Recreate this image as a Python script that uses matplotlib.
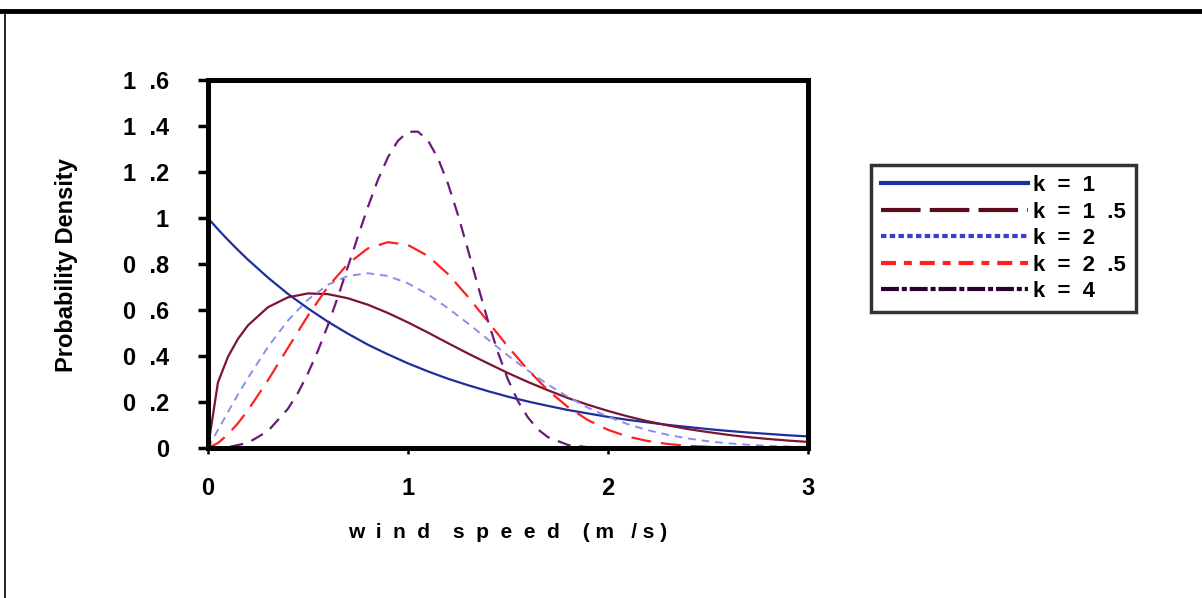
import matplotlib.pyplot as plt
from matplotlib.lines import Line2D

# wind speed samples (m/s)
speed = [0, 0.05, 0.1, 0.15, 0.2, 0.3, 0.4, 0.5, 0.6, 0.7, 0.8, 0.9, 1.0,
         1.1, 1.2, 1.3, 1.4, 1.5, 1.6, 1.7, 1.8, 1.9, 2.0, 2.1, 2.2, 2.3,
         2.4, 2.5, 2.6, 2.7, 2.8, 2.9, 3.0]

pdf_k1 = [1.0, 0.951, 0.905, 0.861, 0.819, 0.741, 0.670, 0.607, 0.549, 0.497,
          0.449, 0.407, 0.368, 0.333, 0.301, 0.273, 0.247, 0.223, 0.202, 0.183,
          0.165, 0.150, 0.135, 0.122, 0.111, 0.100, 0.091, 0.082, 0.074, 0.067,
          0.061, 0.055, 0.050]
pdf_k15 = [0, 0.285, 0.396, 0.474, 0.533, 0.612, 0.655, 0.672, 0.669, 0.651,
           0.623, 0.587, 0.546, 0.502, 0.456, 0.411, 0.368, 0.326, 0.287, 0.251,
           0.217, 0.188, 0.161, 0.137, 0.116, 0.098, 0.082, 0.069, 0.057, 0.047,
           0.039, 0.032, 0.026]
pdf_k2 = [0, 0.078, 0.156, 0.232, 0.304, 0.439, 0.554, 0.645, 0.710, 0.748,
          0.760, 0.748, 0.716, 0.668, 0.608, 0.542, 0.472, 0.402, 0.337, 0.276,
          0.222, 0.175, 0.136, 0.103, 0.077, 0.057, 0.041, 0.029, 0.020, 0.014,
          0.009, 0.006, 0.004]
pdf_k25 = [0, 0.021, 0.059, 0.107, 0.164, 0.294, 0.435, 0.575, 0.701, 0.801,
           0.868, 0.895, 0.883, 0.835, 0.757, 0.658, 0.550, 0.441, 0.340, 0.251,
           0.178, 0.121, 0.079, 0.049, 0.030, 0.017, 0.009, 0.005, 0.002, 0.001,
           0.0005, 0.0002, 0.0001]

speed_k4 = [0, 0.1, 0.2, 0.3, 0.4, 0.45, 0.5, 0.55, 0.6, 0.65, 0.7, 0.75, 0.8,
            0.85, 0.9, 0.95, 1.0, 1.05, 1.1, 1.15, 1.2, 1.25, 1.3, 1.35, 1.4,
            1.45, 1.5, 1.55, 1.6, 1.65, 1.7, 1.8, 1.9, 2.0, 2.1]
pdf_k4 = [0, 0.003, 0.022, 0.073, 0.170, 0.239, 0.324, 0.422, 0.534, 0.657,
          0.788, 0.920, 1.048, 1.166, 1.264, 1.336, 1.375, 1.376, 1.338, 1.261,
          1.151, 1.015, 0.863, 0.706, 0.554, 0.417, 0.299, 0.204, 0.133, 0.081,
          0.047, 0.013, 0.003, 0.0004, 0]

legend_labels = ["k  =  1", "k  =  1  .5", "k  =  2", "k  =  2  .5", "k  =  4"]
y_ticks = [0, 0.2, 0.4, 0.6, 0.8, 1.0, 1.2, 1.4, 1.6]
y_tick_labels = ["0", "0  .2", "0  .4", "0  .6", "0  .8", "1",
                 "1  .2", "1  .4", "1  .6"]
x_ticks = [0, 1, 2, 3]

font = ["Liberation Sans", "DejaVu Sans"]

fig = plt.figure(figsize=(12.02, 5.98), dpi=100)
ax = fig.add_axes([0.173, 0.251, 0.499, 0.615])

ax.plot(speed, pdf_k1, color="#1c2f9c", lw=1.6)
ax.plot(speed, pdf_k15, color="#7b1530", lw=1.6)
ax.plot(speed, pdf_k2, color="#8c8cf0", lw=1.4, dashes=(4, 3))
ax.plot(speed, pdf_k25, color="#ff2020", lw=1.6, dashes=(9, 4.5))
ax.plot(speed_k4, pdf_k4, color="#6a1a7a", lw=1.6, dashes=(6, 4))

ax.set_xlim(0, 3)
ax.set_ylim(0, 1.6)
ax.set_xticks(x_ticks)
ax.set_xticklabels([str(t) for t in x_ticks], family=font, fontweight="bold",
                   fontsize=17)
ax.set_yticks(y_ticks)
ax.set_yticklabels(y_tick_labels, family=font, fontweight="bold", fontsize=17)
ax.tick_params(axis="y", direction="out", length=7, width=2.5, pad=21)
ax.tick_params(axis="x", direction="out", length=4, width=1.8, pad=17)
for s in ax.spines.values():
    s.set_linewidth(3.6)

fig.text(508 / 1202, 1 - 533 / 598, "w  i  n  d    s  p  e  e  d    ( m   / s )",
         family=font, fontweight="bold", fontsize=15, ha="center", va="center")
fig.text(66 / 1202, 1 - 265 / 598, "Probability Density", family=font,
         fontweight="bold", fontsize=17, rotation=90, ha="center", va="center")

# legend keys are drawn differently from the plotted lines in the original
handles = [
    Line2D([], [], color="#1c2f9c", lw=3),
    Line2D([], [], color="#5a0a1a", lw=3, dashes=(9.5, 2.2)),
    Line2D([], [], color="#3c3cd0", lw=3, dashes=(1.3, 0.8)),
    Line2D([], [], color="#ff2020", lw=3, dashes=(3.6, 1.9, 1.9, 1.9)),
    Line2D([], [], color="#2a0030", lw=3, dashes=(4.3, 0.7, 1.2, 0.7)),
]
leg = fig.legend(handles, legend_labels, loc="upper left",
                 bbox_to_anchor=(0.7246, 0.724), bbox_transform=fig.transFigure,
                 borderaxespad=0,
                 prop={"family": font, "weight": "bold", "size": 16},
                 handlelength=6.6, handletextpad=0.25, labelspacing=0.25,
                 borderpad=0.45, fancybox=False, frameon=True)
leg.get_frame().set_edgecolor("black")
leg.get_frame().set_linewidth(2.5)

# outer frame of the original picture
fig.add_artist(Line2D([0, 1], [0.982, 0.982], color="black", lw=3.5,
                      transform=fig.transFigure))
fig.add_artist(Line2D([0.004, 0.004], [0, 0.982], color="black", lw=1.2,
                      transform=fig.transFigure))

fig.savefig("out.png", dpi=100)
